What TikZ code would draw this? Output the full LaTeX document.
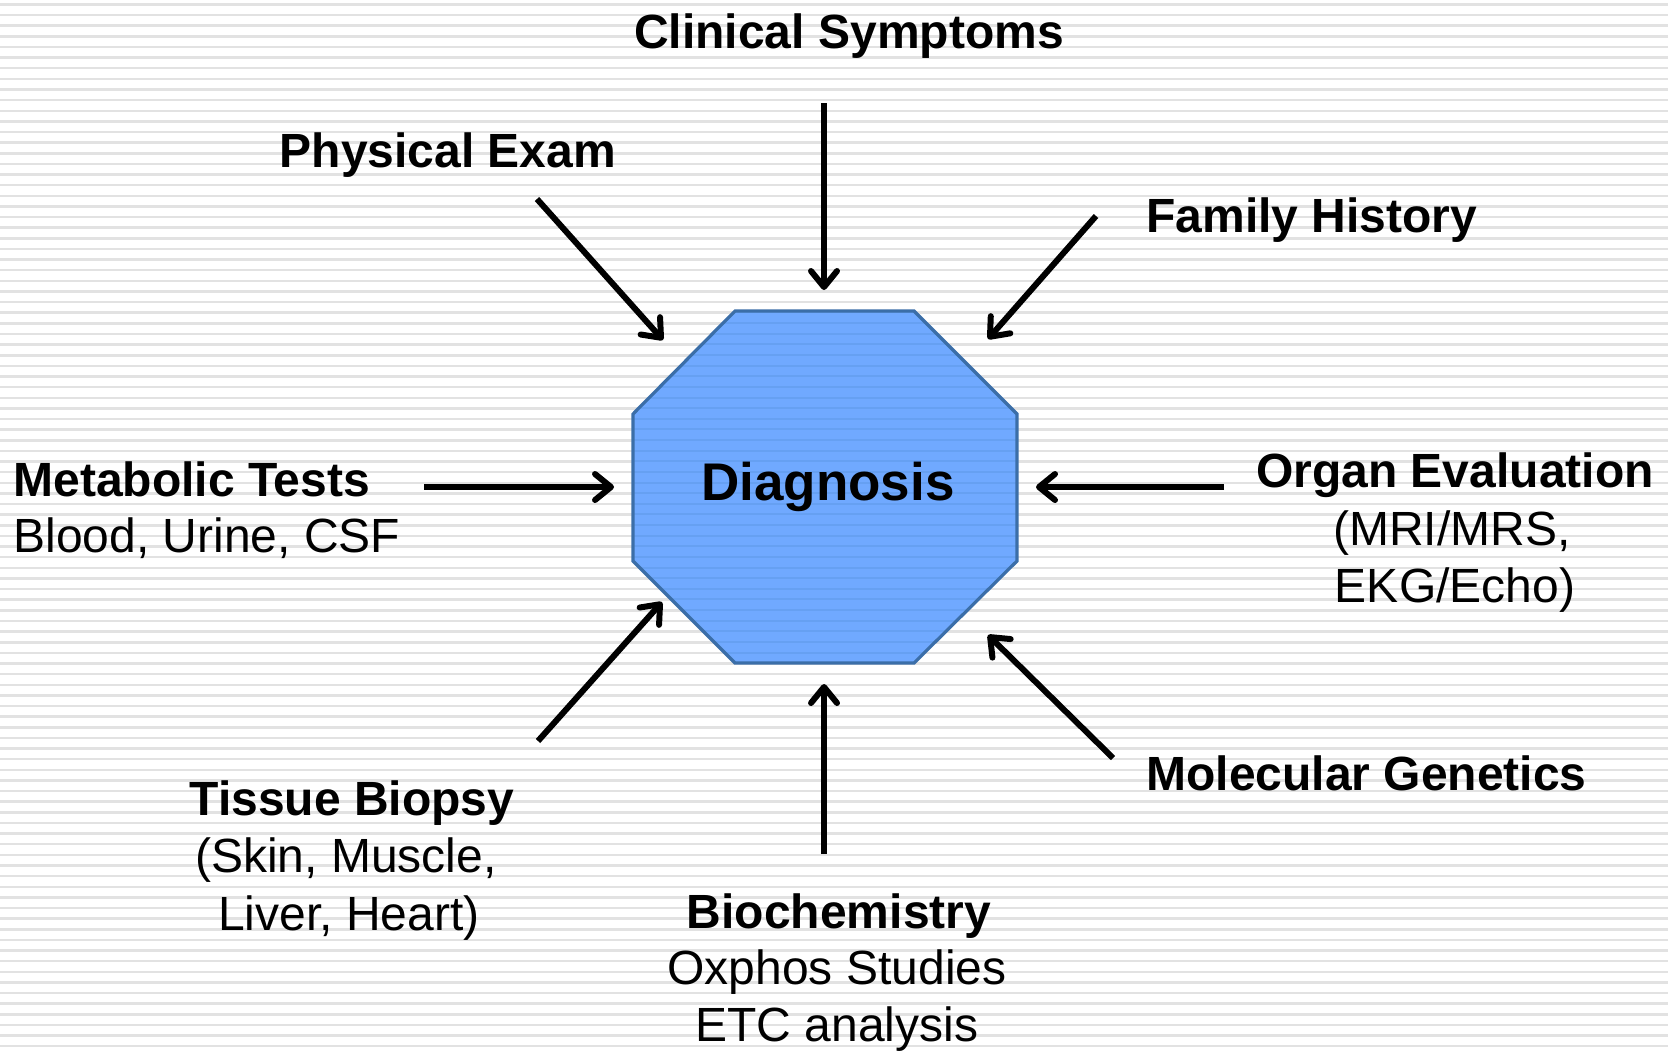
\documentclass[tikz,border=0pt]{standalone}
\usepackage{fontspec}
\setmainfont{Liberation Sans}
\usetikzlibrary{arrows.meta}
\definecolor{stripegray}{HTML}{E2E2E2}
\definecolor{octfill}{HTML}{70A9FF}
\definecolor{octstripe}{HTML}{66A0F2}
\definecolor{octborder}{HTML}{3B6EA8}
\tikzset{
  head/.style={font=\fontsize{24}{28}\selectfont\bfseries, inner sep=0pt, anchor=base},
  body/.style={font=\fontsize{24}{28}\selectfont, inner sep=0pt, anchor=base},
  inarrow/.style={line width=3pt, -{Straight Barb[length=8pt,width=13pt,line cap=round,line join=round]}},
}
\begin{document}
\begin{tikzpicture}[x=0.5pt,y=-0.5pt]
\useasboundingbox (0,0) rectangle (1668,1051);
\fill[white] (0,0) rectangle (1668,1051);
\foreach \i in {0,...,99} {
  \fill[stripegray] (0,{3.2+\i*10.63}) rectangle (1668,{5.7+\i*10.63});
}
% octagon
\coordinate (o1) at (735,311);
\coordinate (o2) at (914,311);
\coordinate (o3) at (1017,414);
\coordinate (o4) at (1017,561);
\coordinate (o5) at (914,663);
\coordinate (o6) at (735,663);
\coordinate (o7) at (633,561);
\coordinate (o8) at (633,414);
\fill[octfill] (o1)--(o2)--(o3)--(o4)--(o5)--(o6)--(o7)--(o8)--cycle;
\begin{scope}
\clip (o1)--(o2)--(o3)--(o4)--(o5)--(o6)--(o7)--(o8)--cycle;
\foreach \i in {0,...,99} {
  \fill[octstripe] (0,{3.2+\i*10.63}) rectangle (1668,{5.2+\i*10.63});
}
\end{scope}
\draw[octborder, line width=1.6pt, line join=miter] (o1)--(o2)--(o3)--(o4)--(o5)--(o6)--(o7)--(o8)--cycle;
\node[font=\fontsize{26.5}{30}\selectfont\bfseries, inner sep=0pt, anchor=base] (diag) at (828,500) {Diagnosis};

% labels
\node[head] (clin) at (849,48) {Clinical Symptoms};
\node[head] (phys) at (448,167) {Physical Exam};
\node[head, anchor=base west] (fam) at (1146,232) {Family History};
\node[head, anchor=base west] (met1) at (13,496) {Metabolic Tests};
\node[body, anchor=base west] (met2) at (13,552) {Blood, Urine, CSF};
\node[head] (org1) at (1455,487) {Organ Evaluation};
\node[body] (org2) at (1452,545) {(MRI/MRS,};
\node[body] (org3) at (1455,602) {EKG/Echo)};
\node[head] (tis1) at (352,815) {Tissue Biopsy};
\node[body] (tis2) at (346,872) {(Skin, Muscle,};
\node[body] (tis3) at (349,930) {Liver, Heart)};
\node[head, anchor=base west] (mol) at (1146,790) {Molecular Genetics};
\node[head] (bio1) at (839,928) {Biochemistry};
\node[body] (bio2) at (837,984) {Oxphos Studies};
\node[body] (bio3) at (837,1041) {ETC analysis};

% arrow ends
\coordinate (clinS) at (824,103);  \coordinate (clinE) at (824,290);
\coordinate (physS) at (537,199);  \coordinate (physE) at (663,340);
\coordinate (famS) at (1096,216);  \coordinate (famE) at (988,339);
\coordinate (metS) at (424,487);   \coordinate (metE) at (614,487);
\coordinate (orgS) at (1224,487);  \coordinate (orgE) at (1036,487);
\coordinate (tisS) at (538,741);   \coordinate (tisE) at (662,602);
\coordinate (bioS) at (824,854);   \coordinate (bioE) at (824,684);
\coordinate (molS) at (1113,758);  \coordinate (molE) at (988,635);

\draw[inarrow] (clinS) -- (clinE);
\draw[inarrow] (physS) -- (physE);
\draw[inarrow] (famS) -- (famE);
\draw[inarrow] (metS) -- (metE);
\draw[inarrow] (orgS) -- (orgE);
\draw[inarrow] (tisS) -- (tisE);
\draw[inarrow] (bioS) -- (bioE);
\draw[inarrow] (molS) -- (molE);
\end{tikzpicture}
\end{document}
